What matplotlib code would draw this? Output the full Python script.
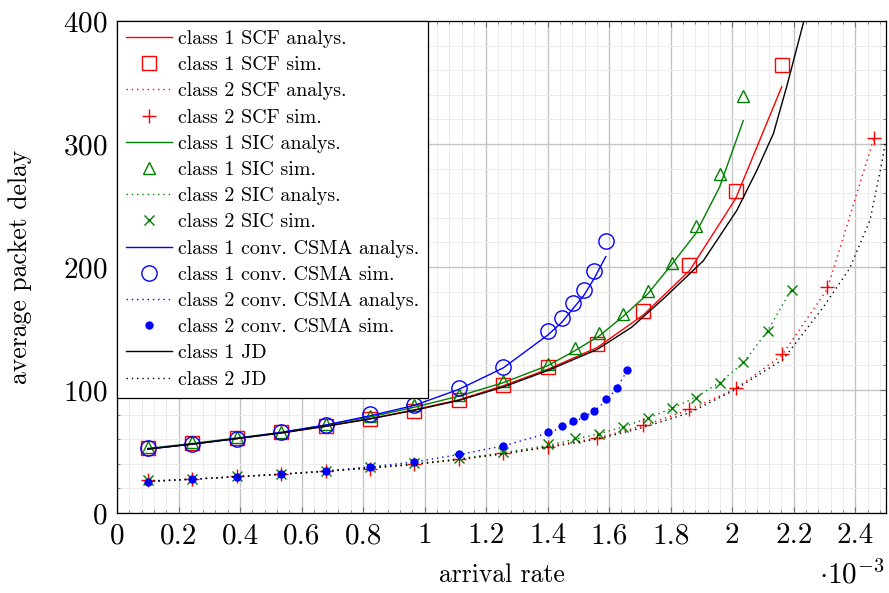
#!/usr/bin/env python3
"""
Average packet delay vs arrival rate for SCF / SIC / conv. CSMA / JD.
"""
import matplotlib
matplotlib.use("Agg")
import matplotlib.pyplot as plt
from matplotlib.ticker import MultipleLocator, FixedLocator, FixedFormatter

plt.rcParams["font.family"] = "cmr10"
plt.rcParams["mathtext.fontset"] = "cm"
plt.rcParams["axes.unicode_minus"] = False
plt.rcParams["axes.formatter.use_mathtext"] = True

# arrival rates are given in units of 1e-3
base_x = [0.1, 0.244, 0.389, 0.533, 0.678, 0.822, 0.967, 1.111, 1.256, 1.402]

scf_x = base_x + [1.561, 1.711, 1.861, 2.011, 2.161]
scf_c1_analys = [52, 56, 60.5, 65, 70.5, 76.5, 84, 92, 103.5, 117, 134.5, 161, 197, 255.5, 346.5]
scf_c1_sim = [53, 57, 61, 65.5, 71, 76.5, 83, 92, 104, 118.5, 137.5, 164, 202, 261.5, 364]

scf2_x = base_x + [1.561, 1.711, 1.861, 2.011, 2.161, 2.309, 2.461]
scf_c2_analys = [26, 27.5, 29.5, 31.5, 34, 36.5, 39.5, 43.5, 48.5, 54, 61, 71, 84, 101, 128, 182, 305]
scf_c2_sim = [26.5, 28, 30, 32, 34.5, 36, 39.5, 43.5, 48.5, 54, 61, 71.5, 84.5, 102, 129.5, 183.5, 305]

sic_x = base_x + [1.489, 1.568, 1.646, 1.725, 1.803, 1.881, 1.959, 2.036]
sic_c1_analys = [52.5, 56.5, 61, 65.5, 71.5, 78, 86, 95, 106, 120, 132, 144, 160, 178, 202, 227, 265, 319]
sic_c1_sim = [53.5, 57.5, 61.5, 66, 72, 78.5, 88, 96, 107, 121.5, 134.5, 146.5, 162, 180.5, 203, 233, 275.5, 339]

sic2_x = sic_x + [2.115, 2.193]
sic_c2_analys = [26, 27.5, 29.5, 31.5, 34, 37, 40, 44, 49, 55, 60, 64.5, 70, 77, 85, 94, 106, 122, 148, 182]
sic_c2_sim = [26.5, 28, 30, 32, 34.5, 37.5, 40.5, 44.5, 49.5, 56, 60.6, 64.6, 70.3, 77.1, 85, 93.9, 105.9, 122.4, 148.3, 180.9]

csma_x = base_x + [1.446, 1.482, 1.518, 1.552, 1.589]
csma_c1_analys = [52, 56, 60.5, 65.5, 71.5, 79, 87.5, 100.5, 118, 145, 155, 166, 177, 191, 208.5]
csma_c1_sim = [52.5, 56.5, 60.5, 65.5, 71.5, 80.5, 88, 102, 119, 148, 158.5, 171, 181.5, 196.5, 221]

csma2_x = csma_x + [1.624, 1.659]
csma_c2_analys = [25.5, 27.5, 29.5, 31.5, 34, 37.5, 41.5, 47.5, 54.5, 65, 69.5, 73.5, 78, 83, 91, 101, 116]
csma_c2_sim = [25.5, 27.4, 29.6, 31.5, 34.2, 37.5, 41.8, 47.8, 54.6, 66.2, 70.9, 74.7, 79, 83, 92.5, 101.3, 116]

jd1_x = base_x + [1.561, 1.673, 1.78, 1.906, 2.015, 2.08, 2.134, 2.177, 2.231, 2.26]
jd_c1 = [52, 56, 60.5, 65, 70.5, 76.5, 83.5, 91.5, 102.5, 116, 133, 151, 175, 205, 246, 278.5, 308.5, 346.5, 398, 440]

jd2_x = base_x + [1.561, 1.711, 1.861, 2.004, 2.166, 2.295, 2.381, 2.448, 2.486, 2.497]
jd_c2 = [25.5, 27.5, 29.5, 31.5, 34, 36.5, 39.5, 43.5, 48, 53.5, 60, 69.5, 81.5, 99.5, 125, 167, 198.5, 238, 284, 300]

x_ticks = [0, 0.2, 0.4, 0.6, 0.8, 1, 1.2, 1.4, 1.6, 1.8, 2, 2.2, 2.4]
x_tick_labels = ["0", "0.2", "0.4", "0.6", "0.8", "1", "1.2", "1.4", "1.6", "1.8", "2", "2.2", "2.4"]
y_ticks = [0, 100, 200, 300, 400]

RED, GREEN, BLUE, BLACK = "#ff0000", "#008000", "#0000ff", "#000000"
DOTTED = (0, (1, 2.8))
LW = 1.0


def line(ax, x, y, color, ls, label):
    ax.plot(x, y, color=color, ls=ls, lw=LW, label=label)


def marks(ax, x, y, color, marker, size, label, filled=False):
    ax.plot(x, y, ls="none", marker=marker, ms=size, mec=color,
            mfc=color if filled else "none", mew=1.0, label=label)


def main() -> int:
    fig = plt.figure(figsize=(8.89, 5.93), dpi=100)
    ax = fig.add_axes([117 / 889, 80 / 593, 769 / 889, 492 / 593])

    line(ax, scf_x, scf_c1_analys, RED, "-", "class 1 SCF analys.")
    marks(ax, scf_x, scf_c1_sim, RED, "s", 10, "class 1 SCF sim.")
    line(ax, scf2_x, scf_c2_analys, RED, DOTTED, "class 2 SCF analys.")
    marks(ax, scf2_x, scf_c2_sim, RED, "+", 10, "class 2 SCF sim.")
    line(ax, sic_x, sic_c1_analys, GREEN, "-", "class 1 SIC analys.")
    marks(ax, sic_x, sic_c1_sim, GREEN, "^", 9, "class 1 SIC sim.")
    line(ax, sic2_x, sic_c2_analys, GREEN, DOTTED, "class 2 SIC analys.")
    marks(ax, sic2_x, sic_c2_sim, GREEN, "x", 7, "class 2 SIC sim.")
    line(ax, csma_x, csma_c1_analys, BLUE, "-", "class 1 conv. CSMA analys.")
    marks(ax, csma_x, csma_c1_sim, BLUE, "o", 11, "class 1 conv. CSMA sim.")
    line(ax, csma2_x, csma_c2_analys, BLUE, DOTTED, "class 2 conv. CSMA analys.")
    marks(ax, csma2_x, csma_c2_sim, BLUE, "o", 5, "class 2 conv. CSMA sim.", filled=True)
    line(ax, jd1_x, jd_c1, BLACK, "-", "class 1 JD")
    line(ax, jd2_x, jd_c2, BLACK, DOTTED, "class 2 JD")

    ax.set_xlim(0, 2.5)
    ax.set_ylim(0, 400)
    ax.xaxis.set_major_locator(FixedLocator(x_ticks))
    ax.xaxis.set_major_formatter(FixedFormatter(x_tick_labels))
    ax.xaxis.set_minor_locator(MultipleLocator(0.04))
    ax.yaxis.set_major_locator(FixedLocator(y_ticks))
    ax.yaxis.set_minor_locator(MultipleLocator(20))

    ax.set_axisbelow(True)
    ax.grid(which="major", color="#c4c4c4", lw=1.0)
    ax.grid(which="minor", color="#ececec", lw=0.7)
    ax.tick_params(which="both", direction="in", top=True, right=True,
                   color="#707070", labelsize=21)
    ax.tick_params(which="major", length=4.5, width=0.8, pad=7)
    ax.tick_params(which="minor", length=2.5, width=0.6)
    for sp in ax.spines.values():
        sp.set_linewidth(0.9)

    ax.set_xlabel("arrival rate", fontsize=18.5, labelpad=10)
    ax.set_ylabel("average packet delay", fontsize=18.5, labelpad=22)
    fig.text(885 / 889, 4 / 593, r"$\cdot10^{-3}$", fontsize=21,
             ha="right", va="bottom")

    leg = ax.legend(loc="upper left", fontsize=14.4, borderaxespad=0,
                    fancybox=False, framealpha=1, edgecolor="black",
                    handlelength=2.3, handletextpad=0.3, labelspacing=0.41,
                    borderpad=0.45, numpoints=1)
    leg.get_frame().set_linewidth(0.9)

    fig.savefig("out.png", dpi=100)
    plt.close(fig)
    return 0


if __name__ == "__main__":
    raise SystemExit(main())
